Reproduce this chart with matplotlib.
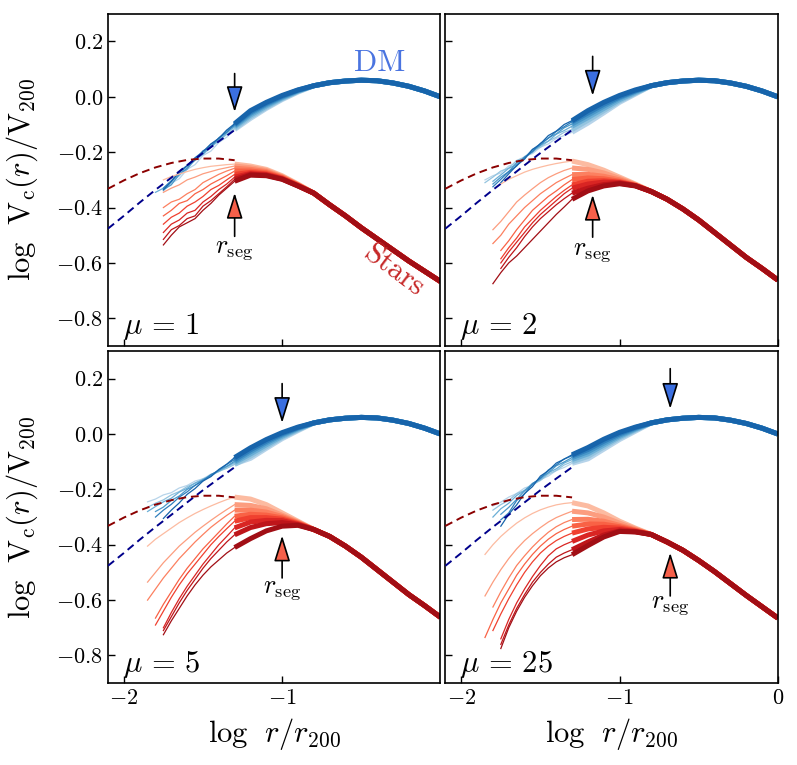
import numpy as np
import matplotlib.pyplot as plt

plt.rcParams.update({
    'font.family': 'serif',
    'font.serif': ['cmr10'],
    'mathtext.fontset': 'cm',
    'axes.formatter.use_mathtext': True,
    'axes.unicode_minus': True,
})

nan = np.nan

# --- data ---
MU_VALUES = [1, 2, 5, 25]

X_THIN = [-1.85, -1.80, -1.75, -1.70, -1.65, -1.60, -1.55, -1.50, -1.45, -1.40, -1.35, -1.30]
X_FAN = [-1.2, -1.1, -1.0, -0.9]
X_TAIL = [-0.8, -0.7, -0.6, -0.5, -0.4, -0.3, -0.2, -0.1, 0.0]

# initial profiles (dashed)
X_INIT = [-2.1, -2.0, -1.9, -1.8, -1.7, -1.6, -1.5, -1.4, -1.3]
DM_INIT = [-0.476, -0.43, -0.382, -0.336, -0.292, -0.247, -0.203, -0.161, -0.12]
STAR_INIT = [-0.332, -0.302, -0.276, -0.255, -0.239, -0.228, -0.223, -0.223, -0.229]

DM_TAIL = [0.04, 0.051, 0.057, 0.06, 0.058, 0.05, 0.038, 0.021, 0.0]

# mu = 1
STAR_THIN_1 = [
    [nan, nan, -0.300, -0.288, -0.279, -0.270, -0.262, -0.256, -0.251, -0.248, -0.245, -0.243],
    [nan, nan, -0.345, -0.330, -0.318, -0.300, -0.290, -0.278, -0.270, -0.262, -0.256, -0.250],
    [nan, nan, -0.400, -0.380, -0.370, -0.350, -0.335, -0.310, -0.295, -0.280, -0.268, -0.258],
    [nan, nan, -0.430, -0.410, -0.385, -0.375, -0.350, -0.335, -0.315, -0.300, -0.285, -0.268],
    [nan, nan, -0.460, -0.435, -0.420, -0.395, -0.380, -0.360, -0.335, -0.320, -0.300, -0.280],
    [nan, nan, -0.490, -0.460, -0.445, -0.420, -0.410, -0.380, -0.360, -0.335, -0.315, -0.290],
    [nan, nan, -0.515, -0.480, -0.465, -0.440, -0.430, -0.395, -0.375, -0.350, -0.325, -0.298],
    [nan, nan, -0.535, -0.500, -0.470, -0.455, -0.440, -0.410, -0.385, -0.355, -0.330, -0.305],
]
STAR_FAN_1 = [
    [-0.250, -0.262, -0.285, -0.315],
    [-0.256, -0.266, -0.288, -0.317],
    [-0.262, -0.270, -0.290, -0.318],
    [-0.268, -0.274, -0.292, -0.319],
    [-0.273, -0.278, -0.294, -0.320],
    [-0.277, -0.281, -0.296, -0.321],
    [-0.280, -0.283, -0.297, -0.322],
    [-0.283, -0.285, -0.298, -0.322],
]
STAR_TAIL_1 = [-0.348, -0.39, -0.43, -0.473, -0.513, -0.553, -0.593, -0.63, -0.667]
DM_THIN_1 = [
    [nan, nan, -0.340, -0.312, -0.296, -0.262, -0.245, -0.212, -0.196, -0.165, -0.146, -0.118],
    [nan, nan, -0.338, -0.310, -0.285, -0.256, -0.230, -0.208, -0.183, -0.158, -0.136, -0.114],
    [nan, -0.345, -0.330, -0.305, -0.278, -0.262, -0.225, -0.207, -0.178, -0.160, -0.130, -0.108],
    [nan, nan, -0.335, -0.318, -0.280, -0.258, -0.222, -0.205, -0.172, -0.155, -0.122, -0.104],
    [nan, nan, -0.330, -0.303, -0.274, -0.250, -0.228, -0.195, -0.180, -0.148, -0.128, -0.100],
    [nan, nan, -0.336, -0.306, -0.270, -0.248, -0.220, -0.198, -0.170, -0.150, -0.120, -0.097],
]
DM_FAN_1 = [
    [-0.078, -0.042, -0.010, 0.017],
    [-0.072, -0.038, -0.007, 0.019],
    [-0.066, -0.033, -0.004, 0.021],
    [-0.060, -0.028, -0.001, 0.022],
    [-0.055, -0.024, 0.002, 0.024],
    [-0.050, -0.020, 0.005, 0.025],
]

# mu = 2
STAR_THIN_2 = [
    [nan, nan, -0.315, -0.298, -0.285, -0.272, -0.262, -0.254, -0.247, -0.241, -0.236, -0.232],
    [nan, -0.480, -0.450, -0.415, -0.380, -0.355, -0.332, -0.310, -0.292, -0.278, -0.266, -0.257],
    [nan, -0.530, -0.500, -0.460, -0.430, -0.400, -0.375, -0.350, -0.330, -0.310, -0.295, -0.281],
    [nan, nan, -0.555, -0.520, -0.480, -0.445, -0.410, -0.385, -0.360, -0.340, -0.318, -0.299],
    [nan, nan, -0.585, -0.545, -0.510, -0.470, -0.440, -0.410, -0.385, -0.360, -0.338, -0.318],
    [nan, nan, -0.600, -0.560, -0.525, -0.490, -0.455, -0.425, -0.400, -0.375, -0.350, -0.330],
    [nan, nan, -0.620, -0.580, -0.545, -0.505, -0.470, -0.440, -0.415, -0.390, -0.368, -0.348],
    [nan, -0.675, -0.635, -0.600, -0.575, -0.545, -0.515, -0.485, -0.455, -0.425, -0.398, -0.370],
]
STAR_FAN_2 = [
    [-0.245, -0.265, -0.290, -0.315],
    [-0.262, -0.275, -0.295, -0.317],
    [-0.280, -0.287, -0.300, -0.318],
    [-0.293, -0.296, -0.305, -0.320],
    [-0.305, -0.303, -0.308, -0.320],
    [-0.315, -0.308, -0.310, -0.321],
    [-0.330, -0.317, -0.312, -0.321],
    [-0.340, -0.322, -0.314, -0.322],
]
STAR_TAIL_2 = [-0.342, -0.37, -0.405, -0.445, -0.49, -0.535, -0.58, -0.62, -0.662]
DM_THIN_2 = [
    [-0.300, -0.285, -0.275, -0.250, -0.240, -0.215, -0.205, -0.182, -0.170, -0.150, -0.140, -0.128],
    [-0.310, -0.290, -0.268, -0.258, -0.230, -0.218, -0.192, -0.182, -0.160, -0.146, -0.128, -0.118],
    [nan, -0.305, -0.282, -0.258, -0.245, -0.218, -0.200, -0.175, -0.160, -0.135, -0.122, -0.106],
    [nan, -0.315, -0.290, -0.270, -0.238, -0.222, -0.190, -0.176, -0.148, -0.134, -0.112, -0.098],
    [nan, -0.325, -0.298, -0.270, -0.250, -0.218, -0.198, -0.168, -0.150, -0.125, -0.108, -0.090],
    [nan, nan, -0.310, -0.278, -0.248, -0.225, -0.190, -0.170, -0.140, -0.124, -0.100, -0.086],
]
DM_FAN_2 = [
    [-0.095, -0.058, -0.020, 0.010],
    [-0.085, -0.050, -0.015, 0.013],
    [-0.075, -0.042, -0.010, 0.016],
    [-0.066, -0.034, -0.004, 0.020],
    [-0.058, -0.027, 0.000, 0.022],
    [-0.050, -0.020, 0.005, 0.025],
]

# mu = 5
STAR_THIN_5 = [
    [-0.405, -0.380, -0.360, -0.340, -0.320, -0.303, -0.287, -0.273, -0.260, -0.248, -0.237, -0.228],
    [-0.535, -0.500, -0.465, -0.435, -0.405, -0.380, -0.355, -0.333, -0.312, -0.292, -0.273, -0.255],
    [-0.600, -0.560, -0.520, -0.485, -0.450, -0.420, -0.390, -0.363, -0.337, -0.315, -0.294, -0.275],
    [nan, -0.665, -0.615, -0.570, -0.525, -0.485, -0.450, -0.415, -0.385, -0.355, -0.325, -0.297],
    [nan, -0.690, -0.640, -0.590, -0.545, -0.505, -0.470, -0.435, -0.400, -0.370, -0.342, -0.315],
    [nan, nan, -0.700, -0.645, -0.595, -0.550, -0.510, -0.470, -0.435, -0.400, -0.370, -0.339],
    [nan, nan, -0.710, -0.660, -0.610, -0.565, -0.525, -0.485, -0.450, -0.420, -0.390, -0.364],
    [nan, nan, -0.725, -0.675, -0.630, -0.585, -0.545, -0.510, -0.480, -0.455, -0.430, -0.410],
]
STAR_FAN_5 = [
    [-0.235, -0.255, -0.285, -0.315],
    [-0.258, -0.270, -0.293, -0.318],
    [-0.275, -0.282, -0.298, -0.320],
    [-0.290, -0.293, -0.303, -0.322],
    [-0.302, -0.302, -0.308, -0.324],
    [-0.318, -0.312, -0.313, -0.326],
    [-0.338, -0.324, -0.320, -0.328],
    [-0.378, -0.350, -0.333, -0.330],
]
STAR_TAIL_5 = [-0.345, -0.37, -0.405, -0.445, -0.49, -0.535, -0.58, -0.62, -0.662]
DM_THIN_5 = [
    [-0.245, -0.235, -0.220, -0.212, -0.195, -0.186, -0.170, -0.162, -0.145, -0.136, -0.120, -0.108],
    [-0.265, -0.250, -0.238, -0.220, -0.208, -0.190, -0.178, -0.162, -0.151, -0.135, -0.124, -0.110],
    [-0.280, -0.262, -0.245, -0.232, -0.210, -0.196, -0.177, -0.166, -0.147, -0.135, -0.118, -0.103],
    [nan, -0.280, -0.264, -0.240, -0.224, -0.200, -0.186, -0.165, -0.152, -0.130, -0.117, -0.098],
    [nan, -0.300, -0.275, -0.254, -0.228, -0.209, -0.185, -0.169, -0.147, -0.131, -0.110, -0.092],
    [nan, nan, -0.305, -0.275, -0.249, -0.218, -0.197, -0.170, -0.154, -0.128, -0.109, -0.085],
]
DM_FAN_5 = [
    [-0.088, -0.052, -0.017, 0.012],
    [-0.080, -0.046, -0.012, 0.015],
    [-0.072, -0.039, -0.008, 0.018],
    [-0.064, -0.032, -0.003, 0.021],
    [-0.057, -0.026, 0.001, 0.023],
    [-0.050, -0.020, 0.005, 0.025],
]

# mu = 25
STAR_THIN_25 = [
    [-0.435, -0.400, -0.370, -0.345, -0.322, -0.303, -0.287, -0.274, -0.264, -0.256, -0.251, -0.248],
    [-0.585, -0.535, -0.490, -0.450, -0.415, -0.385, -0.360, -0.338, -0.318, -0.302, -0.290, -0.279],
    [nan, -0.625, -0.570, -0.520, -0.475, -0.440, -0.408, -0.380, -0.355, -0.335, -0.320, -0.309],
    [-0.735, -0.670, -0.610, -0.560, -0.510, -0.470, -0.435, -0.405, -0.380, -0.360, -0.345, -0.333],
    [nan, -0.710, -0.650, -0.595, -0.545, -0.500, -0.462, -0.430, -0.405, -0.385, -0.370, -0.358],
    [nan, nan, -0.740, -0.670, -0.610, -0.560, -0.515, -0.475, -0.440, -0.415, -0.400, -0.388],
    [nan, nan, -0.760, -0.690, -0.630, -0.580, -0.535, -0.500, -0.470, -0.445, -0.430, -0.418],
    [nan, nan, -0.775, -0.700, -0.640, -0.590, -0.548, -0.512, -0.484, -0.462, -0.447, -0.436],
]
STAR_FAN_25 = [
    [-0.260, -0.285, -0.315, -0.340],
    [-0.285, -0.300, -0.322, -0.343],
    [-0.308, -0.315, -0.330, -0.346],
    [-0.325, -0.326, -0.335, -0.348],
    [-0.343, -0.337, -0.340, -0.350],
    [-0.365, -0.350, -0.345, -0.352],
    [-0.390, -0.365, -0.350, -0.353],
    [-0.403, -0.372, -0.352, -0.354],
]
STAR_TAIL_25 = [-0.363, -0.39, -0.42, -0.457, -0.497, -0.54, -0.583, -0.624, -0.665]
DM_THIN_25 = [
    [nan, -0.260, -0.246, -0.228, -0.215, -0.195, -0.186, -0.165, -0.152, -0.132, -0.121, -0.106],
    [nan, -0.275, -0.255, -0.240, -0.215, -0.204, -0.182, -0.168, -0.145, -0.132, -0.112, -0.100],
    [nan, -0.300, -0.270, -0.250, -0.222, -0.204, -0.178, -0.164, -0.140, -0.126, -0.105, -0.092],
    [nan, nan, -0.290, -0.265, -0.236, -0.205, -0.182, -0.158, -0.140, -0.115, -0.101, -0.085],
    [nan, nan, -0.310, -0.285, -0.240, -0.216, -0.180, -0.160, -0.130, -0.112, -0.090, -0.079],
    [nan, nan, -0.333, -0.290, -0.256, -0.215, -0.190, -0.152, -0.133, -0.105, -0.091, -0.075],
]
DM_FAN_25 = [
    [-0.090, -0.055, -0.020, 0.010],
    [-0.081, -0.047, -0.014, 0.014],
    [-0.072, -0.040, -0.009, 0.017],
    [-0.064, -0.033, -0.004, 0.020],
    [-0.056, -0.026, 0.001, 0.023],
    [-0.049, -0.019, 0.006, 0.025],
]

STAR_THIN = [STAR_THIN_1, STAR_THIN_2, STAR_THIN_5, STAR_THIN_25]
STAR_FAN = [STAR_FAN_1, STAR_FAN_2, STAR_FAN_5, STAR_FAN_25]
STAR_TAIL = [STAR_TAIL_1, STAR_TAIL_2, STAR_TAIL_5, STAR_TAIL_25]
DM_THIN = [DM_THIN_1, DM_THIN_2, DM_THIN_5, DM_THIN_25]
DM_FAN = [DM_FAN_1, DM_FAN_2, DM_FAN_5, DM_FAN_25]

# r_seg arrows
RSEG_X = [-1.30, -1.17, -1.00, -0.68]
DM_ARROW_TOP = [0.084, 0.146, 0.182, 0.236]
DM_ARROW_TIP = [-0.055, 0.004, 0.040, 0.091]
ST_ARROW_TIP = [-0.347, -0.354, -0.367, -0.429]
ST_ARROW_BOT = [-0.504, -0.507, -0.520, -0.585]
RSEG_LABEL_Y = [-0.555, -0.562, -0.564, -0.618]

Y_TICKS = [-0.8, -0.6, -0.4, -0.2, 0.0, 0.2]

# --- figure ---
fig = plt.figure(figsize=(7.97, 7.65), dpi=100)
axes = fig.subplots(2, 2)
fig.subplots_adjust(left=0.1355, right=0.976, bottom=0.107, top=0.982,
                    wspace=0.015, hspace=0.015)

reds = plt.get_cmap('Reds')
blues = plt.get_cmap('Blues')


def draw_family(ax, thin, fan, tail, cmap, c0, c1):
    n = len(thin)
    cols = [cmap(v) for v in np.linspace(c0, c1, n)]
    x_thick = [X_THIN[-1]] + X_FAN + X_TAIL
    for k in range(n):
        ax.plot(X_THIN, thin[k], color=cols[k], lw=0.9, zorder=2)
        y_thick = [thin[k][-1]] + fan[k] + tail
        ax.plot(x_thick, y_thick, color=cols[k], lw=3.6,
                solid_capstyle='butt', zorder=2)


for i, ax in enumerate(axes.flat):
    row, col = divmod(i, 2)
    draw_family(ax, DM_THIN[i], DM_FAN[i], DM_TAIL, blues, 0.3, 0.8)
    draw_family(ax, STAR_THIN[i], STAR_FAN[i], STAR_TAIL[i], reds, 0.25, 0.88)

    ax.plot(X_INIT, DM_INIT, ls=(0, (4, 2.5)), color='#00008b', lw=1.4, zorder=3)
    ax.plot(X_INIT, STAR_INIT, ls=(0, (4, 2.5)), color='#8b0000', lw=1.4, zorder=3)

    ax.annotate('', xy=(RSEG_X[i], DM_ARROW_TIP[i]), xytext=(RSEG_X[i], DM_ARROW_TOP[i]),
                arrowprops=dict(arrowstyle='-|>,head_length=1.6,head_width=0.5',
                                fc='#3b6fe0', ec='k', lw=1.2,
                                shrinkA=0, shrinkB=0, mutation_scale=10), zorder=4)
    ax.annotate('', xy=(RSEG_X[i], ST_ARROW_TIP[i]), xytext=(RSEG_X[i], ST_ARROW_BOT[i]),
                arrowprops=dict(arrowstyle='-|>,head_length=1.6,head_width=0.5',
                                fc='#f6604a', ec='k', lw=1.2,
                                shrinkA=0, shrinkB=0, mutation_scale=10), zorder=4)
    ax.text(RSEG_X[i], RSEG_LABEL_Y[i], r'$r_{\rm seg}$', ha='center', va='center',
            fontsize=19)

    ax.text(0.045, 0.035, r'$\mu\,=\,%d$' % MU_VALUES[i], transform=ax.transAxes,
            ha='left', va='baseline', fontsize=22)

    ax.set_xlim(-2.1, 0.0)
    ax.set_ylim(-0.9, 0.3)
    ax.set_xticks([-2, -1] if col == 0 else [-2, -1, 0])
    ax.set_yticks(Y_TICKS)
    ax.tick_params(direction='in', length=5, width=1.0, labelsize=16,
                   top=False, right=False,
                   labelbottom=(row == 1), labelleft=(col == 0))
    for s in ax.spines.values():
        s.set_linewidth(1.2)

    if col == 0:
        ax.set_ylabel(r'$\log\ \,\mathrm{V}_{\rm c}(r)/\mathrm{V}_{200}$', fontsize=22)
        ax.yaxis.set_label_coords(-0.205, 0.5)
    if row == 1:
        ax.set_xlabel(r'$\log\ \,r/r_{200}$', fontsize=22)
        ax.xaxis.set_label_coords(0.5, -0.1)

axes[0, 0].text(-0.385, 0.12, 'DM', color='#4a74e0', fontsize=22,
                ha='center', va='center')
axes[0, 0].text(-0.3, -0.63, 'Stars', color='#c62828', fontsize=22,
                ha='center', va='center', rotation=-37)

fig.savefig('out.png', dpi=100)
